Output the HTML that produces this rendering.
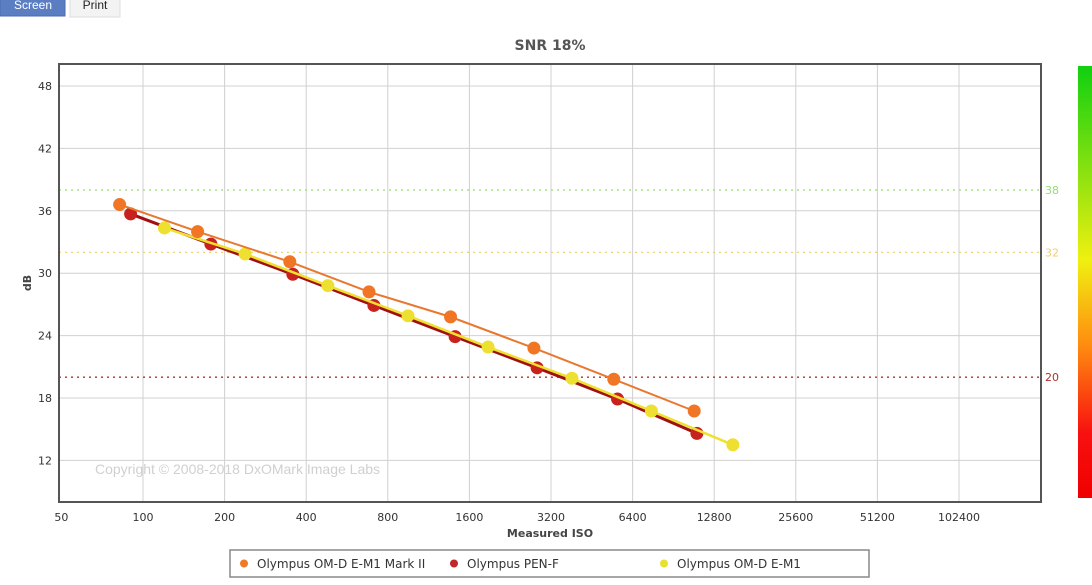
<!DOCTYPE html>
<html><head><meta charset="utf-8"><style>
body{margin:0;width:1092px;height:581px;overflow:hidden;background:#fff;font-family:"DejaVu Sans","Liberation Sans",sans-serif;}
</style></head><body>
<svg width="1092" height="581" xmlns="http://www.w3.org/2000/svg">
<defs><linearGradient id="g" x1="0" y1="0" x2="0" y2="1">
<stop offset="0" stop-color="#10d010"/><stop offset="0.45" stop-color="#f0f010"/><stop offset="0.65" stop-color="#ff8a10"/><stop offset="0.85" stop-color="#f81010"/><stop offset="1" stop-color="#f00000"/></linearGradient></defs>
<g><rect x="0" y="-4" width="65" height="20" fill="#5b7ec2" stroke="#4a6cb0"/><text x="33" y="9" text-anchor="middle" font-family="Liberation Sans" font-size="12" fill="#fff">Screen</text></g>
<g><rect x="70" y="-4" width="50" height="21" fill="#f3f3f3" stroke="#ddd"/><text x="95" y="9" text-anchor="middle" font-family="Liberation Sans" font-size="12" fill="#222">Print</text></g>
<text x="550" y="50" text-anchor="middle" font-size="14" font-weight="bold" fill="#555">SNR 18%</text>
<g id="grid"></g>
<g id="refs"></g>
<text x="95" y="474" font-family="Liberation Sans" font-size="14" fill="#d0d0d0">Copyright © 2008-2018 DxOMark Image Labs</text>
<g id="series"></g>
<rect x="59" y="64" width="982" height="438" fill="none" stroke="#555" stroke-width="2"/>
<text transform="translate(31,283) rotate(-90)" text-anchor="middle" font-size="11" font-weight="bold" fill="#444">dB</text>
<text x="550" y="537" text-anchor="middle" font-size="11" font-weight="bold" fill="#444">Measured ISO</text>
<rect x="1078" y="66" width="14" height="432" fill="url(#g)"/>
<g>
<rect x="230" y="550" width="639" height="27" fill="#fff" stroke="#888" stroke-width="1.5"/>
<g><circle cx="244" cy="563.5" r="4" fill="#ee7a2a"/><text x="257" y="568" font-size="12" fill="#333">Olympus OM-D E-M1 Mark II</text></g>
<g><circle cx="454" cy="563.5" r="4" fill="#c0282a"/><text x="467" y="568" font-size="12" fill="#333">Olympus PEN-F</text></g>
<g><circle cx="664" cy="563.5" r="4" fill="#e8e030"/><text x="677" y="568" font-size="12" fill="#333">Olympus OM-D E-M1</text></g>
</g>
</svg>
<script>
const xTicks=[50,100,200,400,800,1600,3200,6400,12800,25600,51200,102400];
const yTicks=[12,18,24,30,36,42,48];
const refValues=[38,32,20];
const refColors=['#90e070','#f0d070','#b03030'];
const markIIIso=[82,159,348,682,1363,2768,5455,10800];
const markIIDb=[36.6,34.0,31.1,28.2,25.8,22.8,19.8,16.75];
const penFIso=[90,178,357,711,1417,2844,5632,11050];
const penFDb=[35.7,32.8,29.9,26.9,23.9,20.9,17.9,14.6];
const em1Iso=[120,238,481,950,1875,3822,7507,15000];
const em1Db=[34.35,31.85,28.8,25.9,22.9,19.9,16.75,13.5];
const NS='http://www.w3.org/2000/svg';
const X=v=>143+81.6*Math.log2(v/100);
const Y=v=>86+(48-v)*10.4;
function mk(t,a,p){const e=document.createElementNS(NS,t);for(const k in a)e.setAttribute(k,a[k]);p.appendChild(e);return e;}
const grid=document.getElementById('grid');
xTicks.forEach(t=>{const x=X(t);
if(t>50){const l=mk('line',{x1:x,x2:x,y1:64,y2:502,stroke:'#d0d0d0','stroke-width':1},grid);

}
const tx=mk('text',{x:x,y:521,'text-anchor':'middle','font-size':11,fill:'#333'},grid);tx.textContent=t;

});
yTicks.forEach(t=>{const y=Y(t);
const l=mk('line',{x1:59,x2:1041,y1:y,y2:y,stroke:'#d0d0d0','stroke-width':1},grid);


const tx=mk('text',{x:52,y:y+4,'text-anchor':'end','font-size':11,fill:'#333'},grid);tx.textContent=t;

});
const refs=document.getElementById('refs');
refValues.forEach((v,i)=>{const y=Y(v);
const l=mk('line',{x1:59,x2:1041,y1:y,y2:y,stroke:refColors[i],'stroke-width':1.3,'stroke-dasharray':'2,4'},refs);


const tx=mk('text',{x:1045,y:y+4,'font-size':11,fill:refColors[i]},refs);tx.textContent=v;

});
const series=document.getElementById('series');
function draw(iso,db,lineC,dotC,w,name){
const pts=iso.map((v,i)=>X(v)+','+Y(db[i])).join(' ');
const pl=mk('polyline',{points:pts,fill:'none',stroke:lineC,'stroke-width':w},series);


iso.forEach((v,i)=>{const c=mk('circle',{cx:X(v),cy:Y(db[i]),r:6.5,fill:dotC},series);

});}
draw(penFIso,penFDb,'#a01010','#c8221e',3,'pen-f');
draw(em1Iso,em1Db,'#f0e030','#eee030',2.5,'om-d-e-m1');
draw(markIIIso,markIIDb,'#e87830','#f07525',2,'mark-ii');
</script>
</body></html>
